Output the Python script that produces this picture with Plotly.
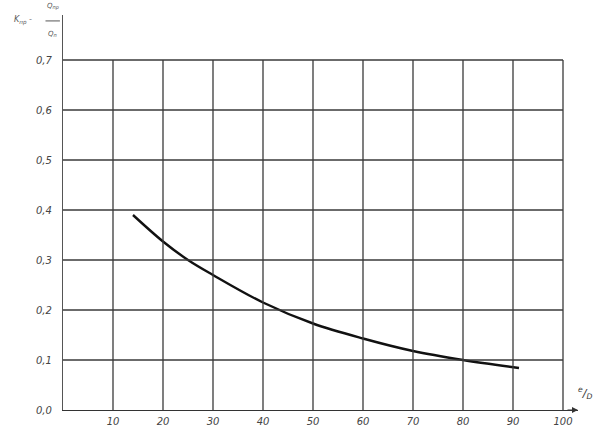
import plotly.graph_objects as go

# Curve data (x = e/D, y = Kпр)
curve_x = [14, 20, 25, 30, 40, 50, 60, 70, 80, 91.2]
curve_y = [0.390, 0.337, 0.300, 0.270, 0.215, 0.173, 0.143, 0.118, 0.100, 0.084]

x_ticks = [10, 20, 30, 40, 50, 60, 70, 80, 90, 100]
x_ticklabels = ["10", "20", "30", "40", "50", "60", "70", "80", "90", "100"]
y_ticks = [0.0, 0.1, 0.2, 0.3, 0.4, 0.5, 0.6, 0.7]
y_ticklabels = ["0,0", "0,1", "0,2", "0,3", "0,4", "0,5", "0,6", "0,7"]

grid_color = "#3a3a3a"
label_font = dict(family="DejaVu Sans", size=10, color="#444444", style="italic")
note_font = dict(family="DejaVu Sans", size=8, color="#555555", style="italic")

fig = go.Figure()
fig.add_trace(go.Scatter(x=curve_x, y=curve_y, mode="lines",
                         line=dict(color="#111111", width=2.4, shape="spline", smoothing=1.0),
                         showlegend=False, hoverinfo="skip"))

shapes = []
x_max_grid = x_ticks[-1]
y_max_grid = y_ticks[-1]
for xv in x_ticks:
    shapes.append(dict(type="line", xref="x", yref="y", x0=xv, x1=xv, y0=0, y1=y_max_grid,
                       line=dict(color=grid_color, width=1.3)))
for yv in y_ticks[1:]:
    shapes.append(dict(type="line", xref="x", yref="y", x0=0, x1=x_max_grid, y0=yv, y1=yv,
                       line=dict(color=grid_color, width=1.3)))
# fraction bar of the title
shapes.append(dict(type="line", xref="paper", yref="paper", x0=-0.034, x1=-0.006, y0=0.985, y1=0.985,
                   line=dict(color="#555555", width=1)))

fig.update_layout(
    width=601, height=428,
    margin=dict(l=63, r=23, t=15, b=18, autoexpand=False),
    paper_bgcolor="white", plot_bgcolor="white",
    shapes=shapes,
    xaxis=dict(range=[0, 103], tickvals=x_ticks, ticktext=x_ticklabels, showgrid=False,
               zeroline=False, showline=True, linecolor="#333", linewidth=1.2, automargin=False,
               ticks="outside", ticklen=2, tickcolor="rgba(0,0,0,0)", tickfont=label_font),
    yaxis=dict(range=[0, 0.79], tickvals=y_ticks, ticktext=y_ticklabels, showgrid=False,
               zeroline=False, showline=True, linecolor="#555", linewidth=1.2, automargin=False,
               ticks="outside", ticklen=8, tickcolor="rgba(0,0,0,0)", tickfont=label_font),
)

fig.add_annotation(x=103, y=0, xref="x", yref="y", ax=-12, ay=0, axref="pixel", ayref="pixel",
                   showarrow=True, arrowhead=2, arrowsize=1, arrowwidth=1.2, arrowcolor="#333", text="")
fig.add_annotation(xref="paper", yref="paper", x=1.013, y=0.043, xanchor="center", yanchor="middle",
                   text="<sup>e</sup>/<sub>D</sub>", showarrow=False,
                   font=dict(family="DejaVu Sans", size=11, color="#333", style="italic"))
fig.add_annotation(xref="paper", yref="paper", x=-0.078, y=0.985, xanchor="center", yanchor="middle",
                   text="K<sub>пр</sub> -", showarrow=False, font=note_font)
fig.add_annotation(xref="paper", yref="paper", x=-0.020, y=1.005, xanchor="center", yanchor="bottom",
                   text="Q<sub>пр</sub>", showarrow=False,
                   font=dict(family="DejaVu Sans", size=7, color="#555555", style="italic"))
fig.add_annotation(xref="paper", yref="paper", x=-0.020, y=0.968, xanchor="center", yanchor="top",
                   text="Q<sub>п</sub>", showarrow=False,
                   font=dict(family="DejaVu Sans", size=7, color="#555555", style="italic"))

fig.write_html("out.html", config={"displayModeBar": False},
               post_script="document.body.style.margin='0px';document.body.style.overflow='hidden';")
